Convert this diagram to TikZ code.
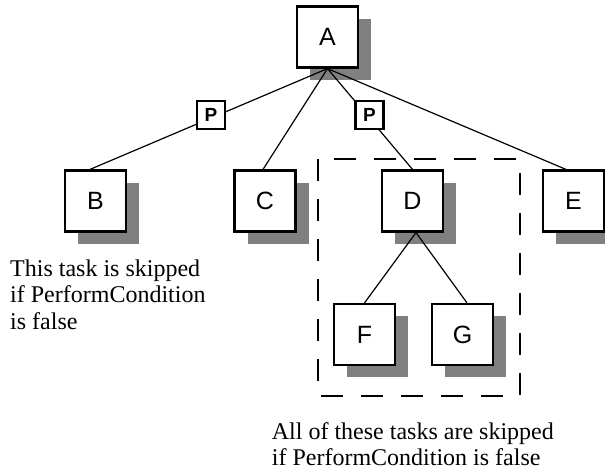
\documentclass[tikz,border=0pt]{standalone}
\usepackage{fontspec}
\setmainfont{Liberation Serif}
\newfontfamily\labelfont{Liberation Sans}
\usetikzlibrary{shadows}

\tikzset{
  task/.style={draw, line width=2.2pt, fill=white, minimum size=61pt, inner sep=0pt,
    font=\labelfont\fontsize{25}{25}\selectfont,
    drop shadow={shadow xshift=13pt, shadow yshift=-12pt, fill=black!50, opacity=1}},
  cond/.style={draw, line width=2.2pt, fill=white, minimum size=28pt, inner sep=0pt,
    font=\labelfont\bfseries\fontsize{19}{19}\selectfont},
  link/.style={line width=1.2pt},
  groupframe/.style={line width=2.3pt, dash pattern=on 22pt off 18pt},
  note/.style={anchor=base west, inner sep=0pt, font=\fontsize{24}{27}\selectfont}
}

\begin{document}
\begin{tikzpicture}[x=1pt, y=-1pt]
  \useasboundingbox (0,0) rectangle (605,471);

  % tasks
  \node[task] (A) at (327.5,37) {A};
  \node[task] (B) at (95.5,201) {B};
  \node[task] (C) at (265,201) {C};
  \node[task] (D) at (412.5,201) {D};
  \node[task] (E) at (573.5,201) {E};
  \node[task] (F) at (364.5,334.5) {F};
  \node[task] (G) at (462.5,334.5) {G};

  % group of tasks depending on the condition
  \draw[groupframe] (318,159) rectangle (520,396);

  % tree edges
  \draw[link] (A.south) -- ([xshift=-5.5pt]B.north);
  \draw[link] (A.south) -- ([xshift=-2pt]C.north);
  \draw[link] (A.south) -- (D.north);
  \draw[link] (A.south) -- ([xshift=-7.5pt]E.north);
  \draw[link] ([xshift=3.5pt]D.south) -- (F.north);
  \draw[link] ([xshift=3.5pt]D.south) -- ([xshift=4.5pt]G.north);

  % PerformCondition markers
  \node[cond] (P1) at (211,115) {P};
  \node[cond] (P2) at (369.5,115) {P};

  % explanation for the single task B
  \node[note] (noteB1) at (10,276)   {This task is skipped};
  \node[note] (noteB2) at (10,302.7) {if PerformCondition};
  \node[note] (noteB3) at (10,329.3) {is false};

  % explanation for the dashed group
  \node[note] (noteG1) at (271.7,439.2) {All of these tasks are skipped};
  \node[note] (noteG2) at (271.7,465.4) {if PerformCondition is false};
\end{tikzpicture}
\end{document}
